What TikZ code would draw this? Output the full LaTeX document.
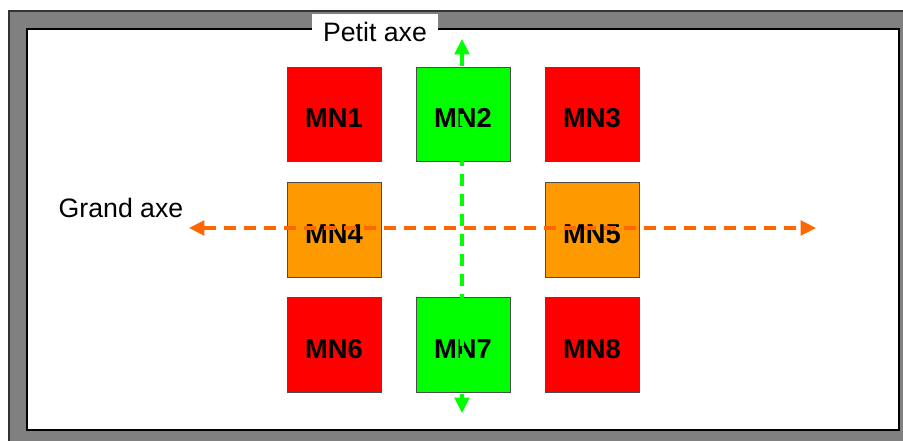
\documentclass[tikz,border=0pt]{standalone}
\usepackage{fontspec}
\setmainfont{Liberation Sans}
\usetikzlibrary{arrows.meta,positioning}
\definecolor{mnred}{HTML}{FF0000}
\definecolor{mngreen}{HTML}{00FF00}
\definecolor{mnorange}{HTML}{FF9900}
\definecolor{axorange}{HTML}{FF6600}
\definecolor{framegray}{HTML}{808080}

\begin{document}
\begin{tikzpicture}[x=0.75pt,y=-0.75pt,>={Triangle[length=11.5pt,width=11pt]},
 font=\fontsize{20}{24}\selectfont,
 mnbox/.style={draw=black!70,line width=0.6pt,minimum width=70.5pt,minimum height=71pt,
  inner sep=0pt,text height=20pt,text depth=0pt,font=\fontsize{20.5}{24}\selectfont\bfseries},
 axe/.style={line width=2.4pt,dash pattern=on 9pt off 6pt}]
 \useasboundingbox (0,0) rectangle (903,441);
 % cadre
 \fill[framegray] (9,11) rectangle (903,441);
 \draw[black!80,line width=1pt] (9,441)--(9,11)--(903,11);
 \fill[white] (27,29) rectangle (899,430);
 \draw[black,line width=1pt] (27,29) rectangle (899,430);

 % modules
 \node[mnbox,fill=mnred] (mn1) at (334,114.5) {MN1};
 \node[mnbox,fill=mngreen] (mn2) at (463,114.5) {MN2};
 \node[mnbox,fill=mnred] (mn3) at (592,114.5) {MN3};
 \node[mnbox,fill=mnorange] (mn4) at (334,230) {MN4};
 \node[mnbox,fill=mnorange] (mn5) at (592,230) {MN5};
 \node[mnbox,fill=mnred] (mn6) at (334,345) {MN6};
 \node[mnbox,fill=mngreen] (mn7) at (463,345) {MN7};
 \node[mnbox,fill=mnred] (mn8) at (592,345) {MN8};

 % axes
 \coordinate (petitH) at (462,39);
 \coordinate (petitB) at (462,413);
 \coordinate (grandG) at (189,228);
 \coordinate (grandD) at (816,228);
 \draw[axe,mngreen,<->] (petitH)--(petitB);
 \draw[axe,axorange,<->] (grandG)--(grandD);

 \node[fill=white,minimum width=94.5pt,minimum height=27pt,inner sep=0pt] (petit) at (375,32) {Petit axe};
 \node (grand) at (121,208) {Grand axe};
\end{tikzpicture}
\end{document}
